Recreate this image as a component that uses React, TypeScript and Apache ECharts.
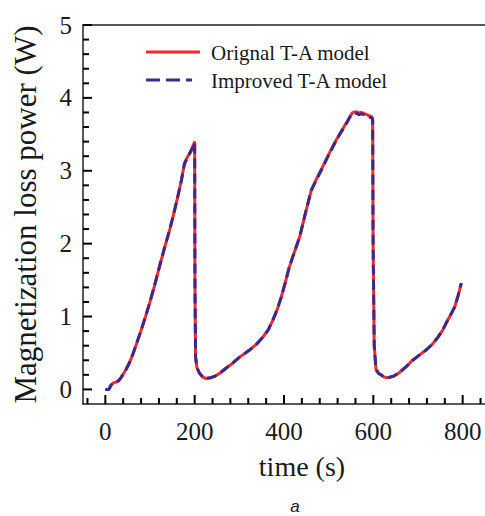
import React, { useEffect, useRef } from "react";
import * as echarts from "echarts";

const timeS = [
  0, 8, 13, 18, 24, 30, 36, 47, 55, 62, 70, 80, 90, 99, 110, 121, 132, 144, 152, 162, 170, 177, 183, 189, 195, 200,
  200.6, 202, 205, 211, 218, 226, 235, 245, 256, 270, 285, 300, 323, 340, 353, 365, 375, 385, 394, 403, 412, 423,
  435, 448, 461, 472, 483, 498, 513, 526, 539, 548, 554, 562, 568, 573, 585, 597, 598.5, 599.5, 602, 606, 612, 617,
  624, 632, 645, 658, 673, 688, 703, 718, 732, 744, 755, 763, 772, 782, 790, 797,
];
const originalLoss = [
  0, 0, 0.06, 0.09, 0.1, 0.12, 0.17, 0.28, 0.38, 0.49, 0.63, 0.81, 1.0, 1.18, 1.42, 1.68, 1.93, 2.19, 2.38, 2.64, 2.86,
  3.1, 3.18, 3.24, 3.32, 3.4,
  1.5, 0.45, 0.3, 0.22, 0.17, 0.15, 0.16, 0.18, 0.22, 0.29, 0.36, 0.44, 0.54, 0.63, 0.72, 0.82, 0.95, 1.1, 1.27, 1.47,
  1.68, 1.88, 2.09, 2.42, 2.73, 2.88, 3.01, 3.2, 3.38, 3.52, 3.65, 3.75, 3.8, 3.81, 3.79, 3.8, 3.77, 3.74, 3.7, 2.0,
  0.6, 0.27, 0.22, 0.2, 0.17, 0.16, 0.18, 0.23, 0.31, 0.4, 0.47, 0.54, 0.62, 0.71, 0.81, 0.91, 1.01, 1.13, 1.29, 1.46,
];
const improvedLoss = [
  0, 0, 0.06, 0.09, 0.1, 0.12, 0.17, 0.28, 0.38, 0.49, 0.63, 0.81, 1.0, 1.18, 1.42, 1.68, 1.93, 2.19, 2.38, 2.64, 2.86,
  3.09, 3.17, 3.24, 3.31, 3.39,
  1.5, 0.45, 0.3, 0.22, 0.17, 0.15, 0.16, 0.18, 0.22, 0.29, 0.36, 0.44, 0.54, 0.63, 0.72, 0.82, 0.95, 1.1, 1.27, 1.47,
  1.68, 1.88, 2.09, 2.42, 2.73, 2.87, 3.0, 3.19, 3.37, 3.51, 3.64, 3.74, 3.78, 3.79, 3.77, 3.78, 3.76, 3.72, 3.69, 2.0,
  0.6, 0.27, 0.22, 0.2, 0.17, 0.16, 0.18, 0.23, 0.31, 0.4, 0.47, 0.54, 0.62, 0.71, 0.81, 0.91, 1.01, 1.13, 1.29, 1.46,
];

// axis ranges and tick values
const xRange = [-50, 850];
const yRange = [-0.2, 5];
const xMajorTicks = [0, 200, 400, 600, 800];
const xMinorTicks = [
  -40, 40, 80, 120, 160, 240, 280, 320, 360, 440, 480, 520, 560, 640, 680, 720, 760, 840,
];
const yMajorTicks = [0, 1, 2, 3, 4, 5];
const yMinorTicks = [
  0.2, 0.4, 0.6, 0.8, 1.2, 1.4, 1.6, 1.8, 2.2, 2.4, 2.6, 2.8, 3.2, 3.4, 3.6, 3.8, 4.2, 4.4, 4.6, 4.8,
];

const seriesNames = ["Orignal T-A model", "Improved T-A model"];
const xTitle = "time (s)";
const yTitle = "Magnetization loss power (W)";
const panelLabel = "a";

const SERIF = "Liberation Serif, Times New Roman, serif";
const RED = "#f42a2a";
const BLUE = "#3a2a8e";
const AXIS = "#222222";
const TEXT = "#1a1a1a";

const W = 485;
const H = 516;

export default function App() {
  const ref = useRef<HTMLDivElement>(null);
  useEffect(() => {
    if (!ref.current) return;
    const chart = echarts.init(ref.current, null, { renderer: "svg" });
    const red = timeS.map((t, i) => [t, originalLoss[i]]);
    const blue = timeS.map((t, i) => [t, improvedLoss[i]]);

    const baseGraphic: any[] = [
      { type: "line", shape: { x1: 146, y1: 52, x2: 200, y2: 52 }, style: { stroke: RED, lineWidth: 3 } },
      {
        type: "text",
        x: 211,
        y: 53,
        style: { text: seriesNames[0], fontFamily: SERIF, fontSize: 21, fill: TEXT, verticalAlign: "middle" },
      },
      {
        type: "line",
        shape: { x1: 146, y1: 80, x2: 192, y2: 80 },
        style: { stroke: BLUE, lineWidth: 3, lineDash: [14, 6] },
      },
      {
        type: "text",
        x: 211,
        y: 81,
        style: { text: seriesNames[1], fontFamily: SERIF, fontSize: 21, fill: TEXT, verticalAlign: "middle" },
      },
      {
        type: "text",
        x: 302,
        y: 466,
        style: { text: xTitle, fontFamily: SERIF, fontSize: 28, fill: TEXT, align: "center", verticalAlign: "middle" },
      },
      {
        type: "text",
        x: 295,
        y: 506,
        style: {
          text: panelLabel,
          fontFamily: "Liberation Sans, Arial, sans-serif",
          fontSize: 17,
          fontStyle: "italic",
          fill: TEXT,
          align: "center",
          verticalAlign: "middle",
        },
      },
    ];

    chart.setOption({
      animation: false,
      backgroundColor: "#ffffff",
      grid: { left: 83, right: 0, top: 25, bottom: 112 },
      xAxis: [
        {
          type: "value",
          min: xRange[0],
          max: xRange[1],
          position: "bottom",
          splitLine: { show: false },
          axisLine: { show: true, onZero: false, lineStyle: { color: AXIS, width: 1.5 } },
          axisTick: { show: false },
          axisLabel: { customValues: xMajorTicks, margin: 15, fontFamily: SERIF, fontSize: 25, color: TEXT },
        },
        {
          type: "value",
          min: xRange[0],
          max: xRange[1],
          position: "top",
          splitLine: { show: false },
          axisLine: { show: true, onZero: false, lineStyle: { color: AXIS, width: 1.5 } },
          axisTick: { show: false },
          axisLabel: { show: false },
        },
      ],
      yAxis: [
        {
          type: "value",
          min: yRange[0],
          max: yRange[1],
          position: "left",
          splitLine: { show: false },
          name: yTitle,
          nameLocation: "middle",
          nameGap: 42,
          nameTextStyle: { fontFamily: SERIF, fontSize: 31, color: TEXT },
          axisLine: { show: true, onZero: false, lineStyle: { color: AXIS, width: 1.5 } },
          axisTick: { show: false },
          axisLabel: { customValues: yMajorTicks, margin: 11, fontFamily: SERIF, fontSize: 25, color: TEXT },
        },
      ],
      series: [
        {
          name: seriesNames[0],
          type: "line",
          xAxisIndex: 0,
          yAxisIndex: 0,
          data: red,
          showSymbol: false,
          lineStyle: { color: RED, width: 3 },
          z: 2,
        },
        {
          name: seriesNames[1],
          type: "line",
          xAxisIndex: 0,
          yAxisIndex: 0,
          data: blue,
          showSymbol: false,
          lineStyle: { color: BLUE, width: 3, type: [10, 5] },
          z: 3,
        },
      ],
      graphic: baseGraphic,
    });

    // tick marks placed through the chart's own axis scales
    const toPx = (v: number[]) => chart.convertToPixel({ xAxisIndex: 0, yAxisIndex: 0 }, v) as number[];
    const ticks: any[] = [];
    const addX = (values: number[], len: number) =>
      values.forEach((v) => {
        const p = toPx([v, yRange[0]]);
        ticks.push({
          type: "line",
          z: 100,
          shape: { x1: p[0], y1: p[1], x2: p[0], y2: p[1] - len },
          style: { stroke: "#000000", lineWidth: 2 },
        });
      });
    const addY = (values: number[], len: number) =>
      values.forEach((v) => {
        const p = toPx([xRange[0], v]);
        ticks.push({
          type: "line",
          z: 100,
          shape: { x1: p[0], y1: p[1], x2: p[0] + len, y2: p[1] },
          style: { stroke: "#000000", lineWidth: 2 },
        });
      });
    addX(xMajorTicks, 9);
    addX(xMinorTicks, 6);
    addY(yMajorTicks, 9);
    addY(yMinorTicks, 6);
    chart.setOption({ graphic: [...baseGraphic, ...ticks] });

    return () => chart.dispose();
  }, []);
  return <div ref={ref} style={{ position: "fixed", left: 0, top: 0, width: W, height: H }} />;
}
